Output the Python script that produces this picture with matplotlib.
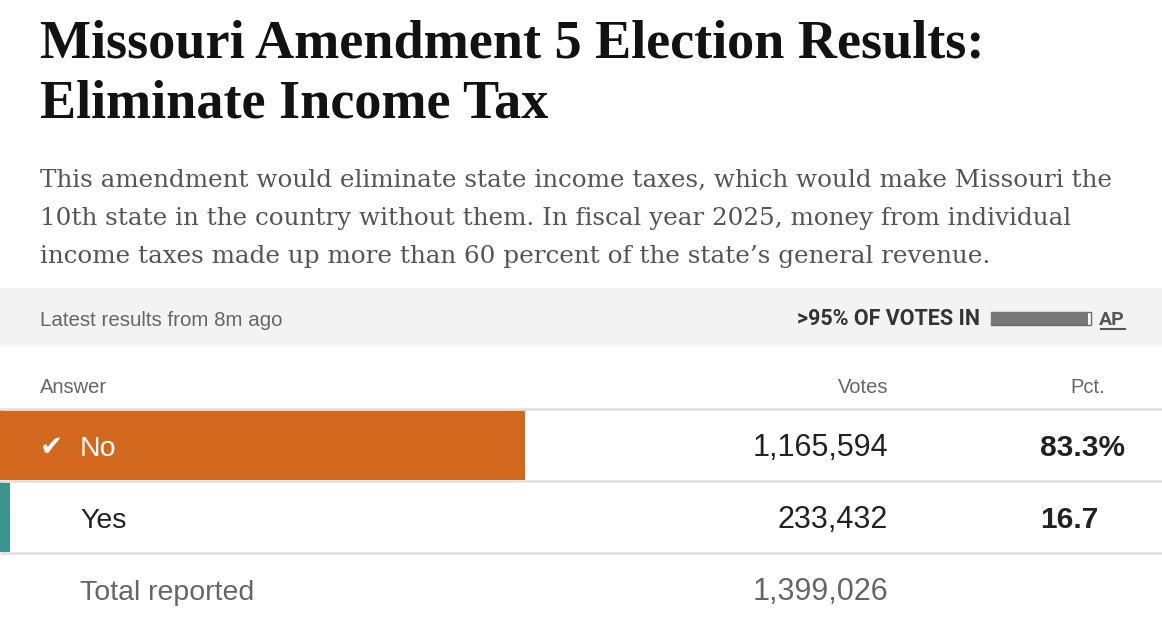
import matplotlib
matplotlib.use("Agg")
import matplotlib.pyplot as plt
from matplotlib.patches import Rectangle

# Results data
answers = ["No", "Yes"]
votes = [1165594, 233432]
pcts = [83.3, 16.7]
total_votes = 1399026
winner = "No"
reporting = 95  # percent of votes in
colors = {"No": "#d2691f", "Yes": "#3b948f"}

title_lines = ["Missouri Amendment 5 Election Results:", "Eliminate Income Tax"]
subtitle_lines = [
    "This amendment would eliminate state income taxes, which would make Missouri the",
    "10th state in the country without them. In fiscal year 2025, money from individual",
    "income taxes made up more than 60 percent of the state\u2019s general revenue.",
]

W, H = 1162, 619
fig = plt.figure(figsize=(W / 100, H / 100), dpi=100)
ax = fig.add_axes([0, 0, 1, 1])
ax.set_xlim(0, W)
ax.set_ylim(H, 0)
ax.axis("off")

SANS = "Liberation Sans"
SERIF = "Liberation Serif"

# title + dek
for i, line in enumerate(title_lines):
    ax.text(40, 58 + i * 60, line, fontsize=39, fontweight="bold", family=SERIF,
            color="#121212", va="baseline", ha="left")
for i, line in enumerate(subtitle_lines):
    ax.text(40, 187 + i * 38, line, fontsize=17.7, family="DejaVu Serif",
            color="#555555", va="baseline", ha="left")

# grey status band
ax.add_patch(Rectangle((0, 288), W, 58, color="#f3f3f3", lw=0))
ax.text(40, 326, "Latest results from 8m ago", fontsize=14.8, family=SANS,
        color="#666666", va="baseline")
ax.text(980, 325, f">{reporting}% OF VOTES IN", fontsize=15.5, family="Roboto",
        fontweight="bold", color="#333333", va="baseline", ha="right")
bar_x, bar_w = 991, 100
ax.add_patch(Rectangle((bar_x, 312), bar_w, 13, facecolor="#ffffff",
                       edgecolor="#6b6b6b", lw=1))
ax.add_patch(Rectangle((bar_x, 312), bar_w * 0.97, 13, facecolor="#777777", lw=0))
ax.text(1125, 325, "AP", fontsize=14, family="Roboto", fontweight="bold",
        color="#555555", va="baseline", ha="right")
ax.plot([1101, 1125], [329, 329], color="#555555", lw=1.5)

# table header
ax.text(40, 393, "Answer", fontsize=14.5, family=SANS, color="#666666", va="baseline")
ax.text(888, 393, "Votes", fontsize=14.5, family=SANS, color="#666666",
        va="baseline", ha="right")
ax.text(1105, 393, "Pct.", fontsize=14.5, family=SANS, color="#666666",
        va="baseline", ha="right")

row_h = 72
top = 409
bar_scale = 630  # px for 100%
for y in [top + k * row_h for k in range(3)]:
    ax.plot([0, W], [y, y], color="#e2e2e2", lw=2, solid_capstyle="butt")

for i, (ans, v, p) in enumerate(zip(answers, votes, pcts)):
    y0 = top + 1 + i * row_h
    base = y0 + 46
    if ans == winner:
        ax.add_patch(Rectangle((0, y0), p / 100 * bar_scale, row_h - 2,
                               color=colors[ans], lw=0))
        ax.text(40, base - 1, "\u2714", fontsize=20, family="DejaVu Sans",
                color="white", va="baseline")
        label_color = "white"
    else:
        ax.add_patch(Rectangle((0, y0), 10, row_h - 2, color=colors[ans], lw=0))
        label_color = "#222222"
    ax.text(80, base, ans, fontsize=20.5, family=SANS, color=label_color, va="baseline")
    ax.text(888, base, f"{v:,}", fontsize=22, family=SANS, color="#222222",
            va="baseline", ha="right")
    if i == 0:
        ax.text(1125, base, f"{p:.1f}%", fontsize=21.5, family=SANS,
                fontweight="bold", color="#222222", va="baseline", ha="right")
    else:
        ax.text(1099, base, f"{p:.1f}", fontsize=21.5, family=SANS,
                fontweight="bold", color="#222222", va="baseline", ha="right")

base = top + 1 + 2 * row_h + 46
ax.text(80, base, "Total reported", fontsize=20.5, family=SANS, color="#666666",
        va="baseline")
ax.text(888, base, f"{total_votes:,}", fontsize=22, family=SANS, color="#666666",
        va="baseline", ha="right")

fig.savefig("out.png", dpi=100)
